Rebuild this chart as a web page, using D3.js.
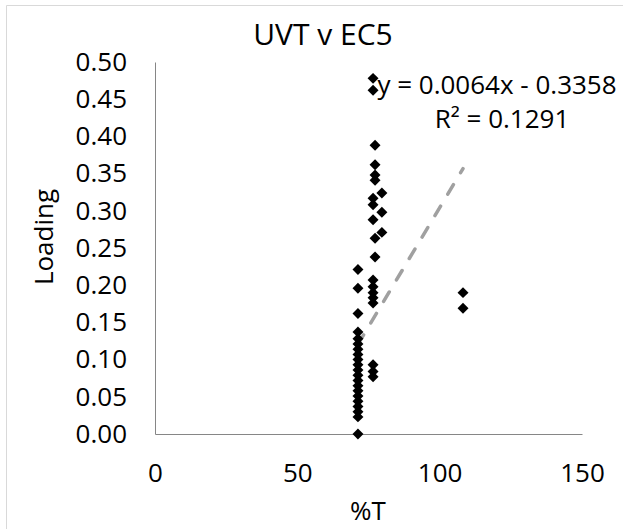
<!DOCTYPE html>
<html><head><meta charset="utf-8">
<script src="https://cdn.jsdelivr.net/npm/d3@7"></script>
<style>body{margin:0;background:#fff}svg{display:block}text{font-family:"Open Sans",sans-serif;fill:#000}</style>
</head><body><div id="c"></div>
<script>
const title = "UVT v EC5";
const xLabel = "%T";
const yLabel = "Loading";
const xTicks = [0, 50, 100, 150];
const yTicks = [0, 0.05, 0.10, 0.15, 0.20, 0.25, 0.30, 0.35, 0.40, 0.45, 0.50];
const pctT = [71.3,71.3,71.3,71.3,71.3,71.3,71.3,71.3,71.3,71.3,71.3,71.3,71.3,71.3,71.3,71.3,71.3,71.3,71.3,71.3,71.3,
  76.6,76.6,77.3,77.3,77.3,77.3,79.7,76.6,79.7,76.6,79.7,76.6,77.3,77.3,76.6,76.6,76.6,76.6,76.6,76.6,76.6,76.6,
  108.2,108.2];
const loading = [0.0,0.023,0.030,0.037,0.044,0.051,0.058,0.065,0.072,0.079,0.086,0.093,0.100,0.107,0.114,0.121,0.128,0.137,0.162,0.196,0.221,
  0.478,0.462,0.388,0.362,0.348,0.341,0.324,0.317,0.298,0.308,0.271,0.288,0.263,0.238,0.207,0.198,0.190,0.183,0.176,0.093,0.084,0.077,
  0.190,0.169];
const trendSlope = 0.0064, trendIntercept = -0.3358;
const eqText = "y = 0.0064x - 0.3358";
const r2Text = "R² = 0.1291";

const W = 623, H = 529;
const svg = d3.select("#c").append("svg").attr("width", W).attr("height", H);
svg.append("path").attr("d", "M6.5,540V5.5H640").attr("fill","none").attr("stroke","#d9d9d9").attr("stroke-width",1);

const x = d3.scaleLinear().domain([0,150]).range([155,582]);
const y = d3.scaleLinear().domain([0,0.5]).range([434,62]);

const gx = svg.append("g").attr("transform","translate(0,434)")
  .call(d3.axisBottom(x).tickValues(xTicks).tickSize(0).tickPadding(30).tickFormat(d3.format("d")));
gx.select(".domain").attr("stroke","#868686");
gx.selectAll("text").attr("font-size",26).attr("font-family","Open Sans").attr("fill","#000");

const gy = svg.append("g").attr("transform","translate(155,0)")
  .call(d3.axisLeft(y).tickValues(yTicks).tickSize(0).tickPadding(28).tickFormat(d3.format(".2f")));
gy.select(".domain").attr("stroke","#868686");
gy.selectAll("text").attr("font-size",26).attr("font-family","Open Sans").attr("fill","#000");

svg.append("text").attr("x",323).attr("y",45).attr("text-anchor","middle").attr("font-size",30).text(title);
svg.append("text").attr("x",368).attr("y",520).attr("text-anchor","middle").attr("font-size",26).text(xLabel);
svg.append("text").attr("transform","translate(53,237) rotate(-90)").attr("text-anchor","middle").attr("font-size",26).text(yLabel);

const [x0,x1] = d3.extent(pctT);
svg.append("line").attr("x1",x(x0)).attr("y1",y(trendSlope*x0+trendIntercept))
  .attr("x2",x(x1)).attr("y2",y(trendSlope*x1+trendIntercept))
  .attr("stroke","#a0a0a0").attr("stroke-width",3.5).attr("stroke-dasharray","11,14").attr("stroke-linecap","round");

const sym = d3.symbol().type(d3.symbolSquare).size(60);
svg.append("g").selectAll("path").data(pctT.map((v,i)=>[v,loading[i]])).join("path")
  .attr("d",sym).attr("fill","#000")
  .attr("transform",d=>`translate(${x(d[0])},${y(d[1])}) rotate(45)`);

svg.append("text").attr("x",497).attr("y",94).attr("text-anchor","middle").attr("font-size",26).text(eqText);
svg.append("text").attr("x",502).attr("y",128).attr("text-anchor","middle").attr("font-size",26).text(r2Text);
</script></body></html>
